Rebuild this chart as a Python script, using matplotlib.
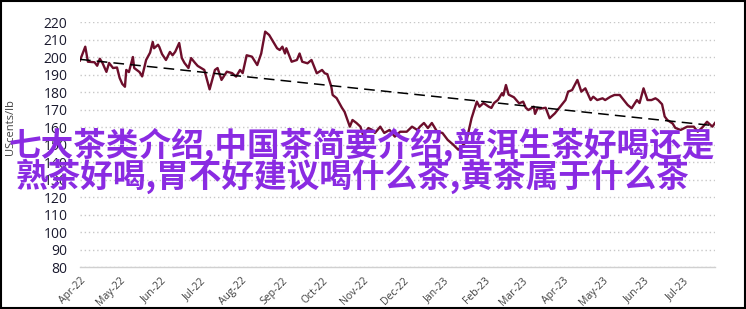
import matplotlib
matplotlib.use('Agg')
import matplotlib.pyplot as plt
import matplotlib.dates as mdates
import numpy as np
import pandas as pd

# price series (US cents/lb)
dates = ['2022-04-01', '2022-04-05', '2022-04-07', '2022-04-12', '2022-04-14', '2022-04-16',
         '2022-04-18', '2022-04-21', '2022-04-23', '2022-04-26', '2022-04-29', '2022-05-01',
         '2022-05-03', '2022-05-05', '2022-05-06', '2022-05-08', '2022-05-11', '2022-05-12',
         '2022-05-16', '2022-05-18', '2022-05-21', '2022-05-24', '2022-05-26', '2022-05-27',
         '2022-05-30', '2022-05-31', '2022-06-02', '2022-06-05', '2022-06-08', '2022-06-10',
         '2022-06-12', '2022-06-15', '2022-06-17', '2022-06-19', '2022-06-22', '2022-06-24',
         '2022-06-27', '2022-06-29', '2022-07-04', '2022-07-08', '2022-07-12', '2022-07-14',
         '2022-07-17', '2022-07-21', '2022-07-25', '2022-07-28', '2022-07-31', '2022-08-02',
         '2022-08-05', '2022-08-09', '2022-08-13', '2022-08-16', '2022-08-19', '2022-08-22',
         '2022-08-28', '2022-08-30', '2022-09-01', '2022-09-03', '2022-09-04', '2022-09-08',
         '2022-09-12', '2022-09-14', '2022-09-16', '2022-09-20', '2022-09-23', '2022-09-27',
         '2022-10-01', '2022-10-03', '2022-10-05', '2022-10-08', '2022-10-09', '2022-10-12',
         '2022-10-16', '2022-10-18', '2022-10-21', '2022-10-22', '2022-10-24', '2022-10-27',
         '2022-10-30', '2022-11-01', '2022-11-05', '2022-11-08', '2022-11-10', '2022-11-14',
         '2022-11-17', '2022-11-21', '2022-11-25', '2022-11-29', '2022-12-04', '2022-12-08',
         '2022-12-12', '2022-12-14', '2022-12-17', '2022-12-20', '2022-12-23', '2022-12-27',
         '2022-12-31', '2023-01-04', '2023-01-08', '2023-01-12', '2023-01-18', '2023-01-22',
         '2023-01-24', '2023-01-26', '2023-01-28', '2023-01-31', '2023-02-04', '2023-02-06',
         '2023-02-08', '2023-02-11', '2023-02-14', '2023-02-15', '2023-02-17', '2023-02-19',
         '2023-02-23', '2023-02-27', '2023-03-02', '2023-03-04', '2023-03-06', '2023-03-10',
         '2023-03-11', '2023-03-13', '2023-03-15', '2023-03-19', '2023-03-22', '2023-03-26',
         '2023-03-28', '2023-03-31', '2023-04-03', '2023-04-05', '2023-04-08', '2023-04-12',
         '2023-04-15', '2023-04-18', '2023-04-22', '2023-04-24', '2023-04-27', '2023-05-01',
         '2023-05-03', '2023-05-07', '2023-05-10', '2023-05-14', '2023-05-17', '2023-05-20',
         '2023-05-23', '2023-05-27', '2023-05-29', '2023-06-01', '2023-06-04', '2023-06-07',
         '2023-06-10', '2023-06-12', '2023-06-15', '2023-06-17', '2023-06-19', '2023-06-23',
         '2023-06-25', '2023-06-29', '2023-07-04', '2023-07-09', '2023-07-12', '2023-07-16',
         '2023-07-19', '2023-07-23', '2023-07-25']
prices = [198.0, 205.9, 197.3, 197.0, 195.0, 199.0,
          196.6, 191.5, 196.6, 193.7, 194.0, 188.0,
          184.6, 183.0, 192.6, 191.4, 200.0, 193.7,
          191.4, 188.9, 198.3, 202.5, 208.6, 205.0,
          207.0, 205.7, 201.7, 198.3, 202.9, 201.0,
          203.0, 208.0, 199.4, 196.6, 193.7, 199.4,
          196.6, 194.9, 192.6, 181.5, 192.6, 193.7,
          186.9, 191.6, 190.8, 188.8, 192.6, 190.8,
          201.0, 200.2, 195.4, 202.0, 214.5, 212.6,
          205.0, 204.0, 205.9, 202.0, 205.0, 197.3,
          198.3, 202.0, 197.3, 196.4, 198.3, 190.7,
          192.6, 190.7, 190.2, 183.0, 178.3, 176.5,
          171.0, 168.7, 162.3, 160.2, 164.0, 162.3,
          160.2, 155.4, 159.4, 158.3, 156.6, 160.2,
          156.6, 158.3, 154.5, 157.3, 157.3, 160.2,
          158.3, 160.2, 162.3, 159.4, 162.3, 157.3,
          156.6, 152.6, 150.0, 147.0, 151.6, 165.0,
          169.7, 174.5, 171.6, 173.7, 171.6, 170.9,
          173.7, 175.5, 179.3, 178.0, 184.0, 178.5,
          177.0, 173.5, 174.5, 171.0, 169.7, 171.6,
          167.5, 170.9, 170.5, 171.0, 165.0, 167.8,
          169.7, 172.5, 175.4, 180.2, 181.1, 186.9,
          180.2, 182.1, 175.4, 177.3, 175.4, 176.4,
          175.4, 177.3, 178.3, 178.3, 175.4, 172.6,
          170.7, 175.4, 173.7, 182.1, 175.4, 175.4,
          176.4, 175.4, 173.0, 166.0, 164.0, 162.0,
          159.5, 158.3, 160.2, 160.2, 157.3, 160.2,
          163.0, 160.2, 162.3]
yticks = list(range(80, 221, 10))
title_lines = ['七大茶类介绍,中国茶简要介绍,普洱生茶好喝还是',
               '熟茶好喝,胃不好建议喝什么茶,黄茶属于什么茶']
ylabel = 'UScents/lb'

x = pd.to_datetime(dates)
xn = mdates.date2num(x)

fig = plt.figure(figsize=(7.46, 3.09), dpi=100)
ax = fig.add_axes([0.1072, 0.1359, 0.8512, 0.7929])

ax.plot(x, prices, color='#6d0e2b', linewidth=1.7, zorder=3)

# linear trend line
k, b = np.polyfit(xn, prices, 1)
ax.plot(x[[0, -1]], k * xn[[0, -1]] + b, color='black', linewidth=1.1,
        dashes=(7, 4), zorder=4)

ax.set_ylim(80, 220)
ax.set_yticks(yticks)
ax.set_xlim(x[0], x[-1])
ax.xaxis.set_major_locator(mdates.MonthLocator())
ax.xaxis.set_major_formatter(mdates.DateFormatter('%b-%y'))

ax.grid(axis='y', color='#c8c8c8', linestyle=(0, (1, 2)), linewidth=1.0)
ax.grid(axis='x', visible=False)
for s in ['top', 'right', 'left']:
    ax.spines[s].set_visible(False)
ax.spines['bottom'].set_color('#d0d0d0')
ax.spines['bottom'].set_linewidth(1.0)

ax.tick_params(axis='y', length=0, pad=9, labelsize=10, labelcolor='#1a1a2e')
ax.tick_params(axis='x', length=0, pad=6, labelsize=7.5, labelcolor='#404040')
for lab in ax.get_yticklabels():
    lab.set_fontfamily('Open Sans')
for lab in ax.get_xticklabels():
    lab.set_fontfamily('Open Sans')
    lab.set_rotation(45)
    lab.set_ha('right')
    lab.set_rotation_mode('anchor')

fig.text(0.014, 0.59, ylabel, rotation=90, ha='center', va='center',
         fontsize=8, color='#404040', family='Open Sans')

fig.text(0.485, 0.53, title_lines[0], ha='center', va='center', fontsize=23.5,
         fontweight='bold', color='#8a2be2', family=['Noto Sans CJK SC', 'DejaVu Sans'])
fig.text(0.472, 0.43, title_lines[1], ha='center', va='center', fontsize=23.5,
         fontweight='bold', color='#8a2be2', family=['Noto Sans CJK SC', 'DejaVu Sans'])

# black frame round the whole figure
fig.patches.append(plt.Rectangle((0.001, 0.002), 0.997, 0.995, transform=fig.transFigure,
                                 fill=False, edgecolor='black', linewidth=1.5))

fig.savefig('out.png', dpi=100)
